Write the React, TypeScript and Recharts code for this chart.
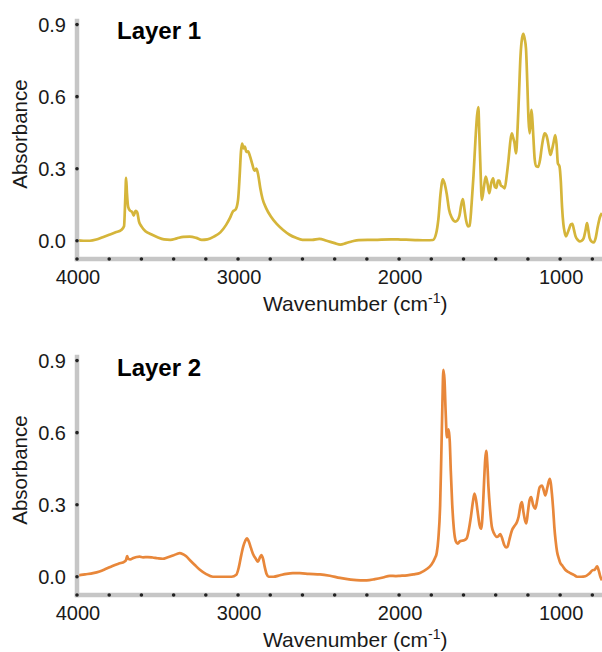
import React from 'react';
import { LineChart, Line, XAxis, YAxis } from 'recharts';

const layer1Wavenumber = [
  4000, 3960, 3920, 3880, 3840, 3800, 3760, 3725, 3708, 3700, 3695, 3690, 3682, 3670, 3658, 3648, 3636, 3626, 3615, 3600,
  3575, 3540, 3500, 3460, 3420, 3380, 3340, 3300, 3260, 3225, 3190, 3150, 3110, 3075, 3050, 3032, 3015, 3000, 2990, 2982,
  2975, 2966, 2958, 2948, 2938, 2925, 2912, 2898, 2886, 2875, 2862, 2848, 2825, 2795, 2760, 2720, 2680, 2640, 2600, 2540,
  2495, 2450, 2400, 2365, 2330, 2290, 2250, 2150, 2050, 1990, 1900, 1830, 1790, 1770, 1756, 1742, 1728, 1716, 1704, 1690,
  1672, 1652, 1638, 1625, 1614, 1604, 1594, 1584, 1572, 1562, 1550, 1538, 1525, 1516, 1508, 1502, 1496, 1486, 1472, 1462,
  1450, 1440, 1428, 1416, 1406, 1396, 1386, 1378, 1368, 1356, 1344, 1332, 1320, 1308, 1300, 1292, 1284, 1274, 1264, 1256,
  1246, 1236, 1228, 1220, 1212, 1204, 1196, 1189, 1182, 1178, 1172, 1166, 1158, 1148, 1136, 1124, 1114, 1104, 1096, 1086,
  1078, 1068, 1060, 1050, 1042, 1030, 1022, 1014, 1004, 996, 988, 980, 972, 964, 955, 945, 934, 924, 914, 904,
  892, 879, 866, 854, 842, 833, 825, 817, 805, 791, 780, 766, 752, 740,
];
const layer1Absorbance = [
  0.003, 0.0, 0.0, 0.005, 0.015, 0.025, 0.035, 0.045, 0.06, 0.18, 0.262, 0.2, 0.14, 0.125, 0.12, 0.105, 0.125, 0.118, 0.08, 0.06,
  0.04, 0.027, 0.015, 0.006, 0.004, 0.01, 0.016, 0.017, 0.012, 0.004, 0.006, 0.017, 0.035, 0.065, 0.095, 0.122, 0.13, 0.17, 0.27, 0.37,
  0.405, 0.385, 0.392, 0.37, 0.372, 0.35, 0.32, 0.292, 0.3, 0.275, 0.22, 0.175, 0.135, 0.1, 0.07, 0.045, 0.025, 0.012, 0.004, 0.004,
  0.008, 0.0, -0.01, -0.016, -0.01, -0.002, 0.003, 0.004, 0.006, 0.005, 0.003, 0.002, 0.003, 0.03, 0.09, 0.2, 0.256, 0.235, 0.195, 0.13,
  0.095, 0.08, 0.085, 0.105, 0.15, 0.173, 0.13, 0.085, 0.06, 0.062, 0.15, 0.27, 0.43, 0.52, 0.557, 0.45, 0.33, 0.17, 0.23, 0.267,
  0.235, 0.198, 0.24, 0.26, 0.225, 0.22, 0.25, 0.25, 0.23, 0.225, 0.218, 0.27, 0.34, 0.42, 0.447, 0.43, 0.41, 0.364, 0.47, 0.6,
  0.77, 0.845, 0.862, 0.84, 0.8, 0.66, 0.5, 0.447, 0.51, 0.545, 0.5, 0.43, 0.34, 0.31, 0.308, 0.34, 0.39, 0.43, 0.447, 0.44,
  0.42, 0.38, 0.357, 0.38, 0.405, 0.44, 0.4, 0.322, 0.31, 0.25, 0.14, 0.07, 0.035, 0.018, 0.03, 0.048, 0.068, 0.07, 0.045, 0.018,
  0.005, -0.003, 0.0, 0.01, 0.045, 0.073, 0.045, 0.012, -0.003, -0.007, 0.01, 0.06, 0.1, 0.115,
];

const layer2Wavenumber = [
  4000, 3950, 3900, 3860, 3820, 3780, 3740, 3705, 3695, 3689, 3682, 3670, 3650, 3630, 3612, 3590, 3560, 3530, 3500, 3467,
  3440, 3405, 3380, 3362, 3345, 3322, 3300, 3270, 3239, 3200, 3156, 3110, 3073, 3040, 3011, 2995, 2980, 2968, 2955, 2945,
  2932, 2920, 2907, 2890, 2876, 2866, 2855, 2845, 2834, 2822, 2810, 2780, 2740, 2700, 2660, 2617, 2560, 2491, 2430, 2367,
  2300, 2240, 2201, 2150, 2100, 2057, 2020, 1994, 1950, 1911, 1870, 1828, 1800, 1777, 1766, 1756, 1745, 1738, 1731, 1725,
  1718, 1711, 1703, 1698, 1692, 1685, 1679, 1670, 1660, 1648, 1636, 1622, 1611, 1596, 1580, 1566, 1554, 1542, 1532, 1522,
  1512, 1500, 1490, 1480, 1472, 1465, 1459, 1452, 1445, 1435, 1424, 1410, 1393, 1382, 1372, 1360, 1347, 1336, 1327, 1315,
  1299, 1285, 1268, 1258, 1245, 1237, 1228, 1218, 1210, 1200, 1190, 1180, 1168, 1154, 1142, 1127, 1113, 1102, 1092, 1080,
  1065, 1058, 1051, 1043, 1036, 1028, 1019, 1008, 999, 985, 968, 950, 937, 915, 895, 870, 843, 820, 801, 785,
  770, 760, 750, 740,
];
const layer2Absorbance = [
  0.005, 0.01, 0.015, 0.022, 0.033, 0.045, 0.055, 0.063, 0.07, 0.086, 0.075, 0.072, 0.078, 0.082, 0.084, 0.081, 0.082, 0.08, 0.077, 0.075,
  0.08, 0.088, 0.095, 0.098, 0.095, 0.085, 0.07, 0.05, 0.03, 0.012, 0.0, 0.0, 0.0, 0.0, 0.008, 0.04, 0.09, 0.125, 0.15, 0.16,
  0.145, 0.12, 0.095, 0.075, 0.063, 0.078, 0.09, 0.075, 0.04, 0.01, 0.0, 0.0, 0.006, 0.012, 0.015, 0.015, 0.012, 0.01, 0.004, -0.005,
  -0.012, -0.015, -0.015, -0.01, -0.003, 0.004, 0.003, 0.004, 0.006, 0.01, 0.016, 0.032, 0.05, 0.078, 0.1, 0.16, 0.3, 0.5, 0.72, 0.862,
  0.82, 0.69, 0.58, 0.59, 0.614, 0.56, 0.442, 0.3, 0.2, 0.148, 0.138, 0.148, 0.15, 0.152, 0.16, 0.2, 0.25, 0.31, 0.346, 0.32,
  0.27, 0.215, 0.2, 0.28, 0.4, 0.49, 0.524, 0.47, 0.373, 0.28, 0.208, 0.18, 0.166, 0.17, 0.178, 0.16, 0.132, 0.122, 0.125, 0.155,
  0.194, 0.21, 0.228, 0.25, 0.3, 0.311, 0.27, 0.235, 0.222, 0.27, 0.318, 0.332, 0.3, 0.284, 0.32, 0.373, 0.38, 0.36, 0.339, 0.37,
  0.408, 0.39, 0.346, 0.28, 0.208, 0.15, 0.104, 0.075, 0.057, 0.045, 0.029, 0.02, 0.015, 0.008, 0.0, 0.0, 0.002, 0.012, 0.026, 0.03,
  0.043, 0.025, 0.0, -0.015,
];

const xTicks = [4000, 3800, 3600, 3400, 3200, 3000, 2800, 2600, 2400, 2200, 2000, 1800, 1600, 1400, 1200, 1000, 800];
const xLabeledTicks = [4000, 3000, 2000, 1000];
const yTicks = [0, 0.3, 0.6, 0.9];
const panelTitles = ['Layer 1', 'Layer 2'];
const lineColors = ['#D5B53A', '#E8873A'];
const xAxisTitle = 'Wavenumber (cm';
const xAxisTitleSup = '-1';
const yAxisTitle = 'Absorbance';
const xDomain = [740, 4000];
const yDomain = [-0.076, 0.915];

const FONT = 'Liberation Sans, Arial, Helvetica, sans-serif';
const TEXT = '#1a1a1a';
const AXIS_GRAY = '#c6c6c6';

const XTick = (props: any) => {
  const { x, y, payload } = props;
  const labeled = xLabeledTicks.indexOf(payload.value) >= 0;
  return (
    <g>
      <circle cx={x} cy={y} r={1.8} fill="#222" />
      {labeled && (
        <text x={x + 1} y={y} dy={25} textAnchor="middle" fontSize={20} fill={TEXT} fontFamily={FONT}>
          {payload.value}
        </text>
      )}
    </g>
  );
};

const YTick = (props: any) => {
  const { x, y, payload } = props;
  return (
    <g>
      <circle cx={x} cy={y} r={1.8} fill="#222" />
      <text x={x - 11} y={y} dy={7} textAnchor="end" fontSize={20} fill={TEXT} fontFamily={FONT}>
        {Number(payload.value).toFixed(1)}
      </text>
    </g>
  );
};

const XTitle = (props: any) => {
  const vb = props.viewBox || { x: 77, y: 259, width: 525, height: 61 };
  const cx = vb.x + vb.width * 0.53;
  const by = vb.y + 52;
  return (
    <text x={cx} y={by} textAnchor="middle" fontSize={21} fill={TEXT} fontFamily={FONT}>
      {xAxisTitle}
      <tspan fontSize={14} dy={-8}>{xAxisTitleSup}</tspan>
      <tspan dy={8}>)</tspan>
    </text>
  );
};

const YTitle = (props: any) => {
  const vb = props.viewBox || { x: 0, y: 21, width: 77, height: 238 };
  const cy = vb.y + vb.height * 0.475;
  return (
    <text
      transform={`translate(20, ${cy}) rotate(-90)`}
      dy="0.35em"
      textAnchor="middle"
      fontSize={20.5}
      fill={TEXT}
      fontFamily={FONT}
    >
      {yAxisTitle}
    </text>
  );
};

function Panel({ wn, ab, color }: { wn: number[]; ab: number[]; color: string }) {
  const data = wn.map((w, i) => ({ w, a: ab[i] }));
  return (
    <LineChart width={602} height={320} data={data} margin={{ top: 21, right: 0, bottom: 0, left: 0 }}>
      <XAxis
        type="number"
        dataKey="w"
        domain={xDomain}
        reversed
        ticks={xTicks}
        interval={0}
        tickSize={0}
        tickMargin={0}
        tickLine={false}
        height={61}
        axisLine={{ stroke: AXIS_GRAY, strokeWidth: 4.5, strokeLinecap: 'square' }}
        tick={<XTick />}
        allowDataOverflow
        label={(p: any) => <XTitle {...p} />}
      />
      <YAxis
        type="number"
        domain={yDomain}
        ticks={yTicks}
        interval={0}
        width={77}
        tickSize={0}
        tickMargin={0}
        tickLine={false}
        axisLine={{ stroke: AXIS_GRAY, strokeWidth: 4.5, strokeLinecap: 'square' }}
        tick={<YTick />}
        allowDataOverflow
        label={(p: any) => <YTitle {...p} />}
      />
      <Line
        type="monotone"
        dataKey="a"
        stroke={color}
        strokeWidth={2.7}
        dot={false}
        activeDot={false}
        isAnimationActive={false}
      />
    </LineChart>
  );
}

export default function App() {
  return (
    <div
      style={{
        position: 'fixed',
        left: 0,
        top: 0,
        width: 602,
        height: 652,
        overflow: 'hidden',
        background: '#fff',
      }}
    >
      <div style={{ position: 'absolute', left: 0, top: 0 }}>
        <Panel wn={layer1Wavenumber} ab={layer1Absorbance} color={lineColors[0]} />
      </div>
      <div style={{ position: 'absolute', left: 0, top: 336 }}>
        <Panel wn={layer2Wavenumber} ab={layer2Absorbance} color={lineColors[1]} />
      </div>
      <svg width={602} height={652} style={{ position: 'absolute', left: 0, top: 0, pointerEvents: 'none' }}>
        <text x={117} y={39} fontSize={24} fontWeight="bold" fill="#000" fontFamily={FONT}>
          {panelTitles[0]}
        </text>
        <text x={117} y={376} fontSize={24} fontWeight="bold" fill="#000" fontFamily={FONT}>
          {panelTitles[1]}
        </text>
      </svg>
    </div>
  );
}
